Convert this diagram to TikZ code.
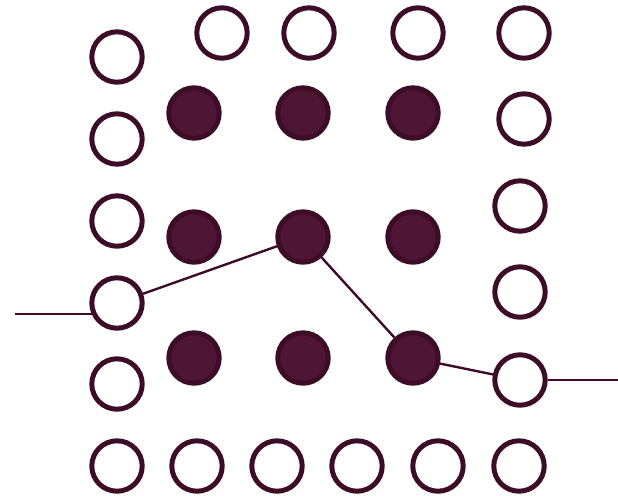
\documentclass[tikz,border=0pt]{standalone}
\usepackage{tikz}
\definecolor{plumx}{HTML}{3D0D28}
\definecolor{plumfill}{HTML}{4F1535}
\tikzset{
  ring/.style={circle,draw=plumx,line width=0.125cm,minimum size=1.26cm,inner sep=0pt,fill=white},
  dot/.style={ring,fill=plumfill},
  ln/.style={line width=0.06cm,plumx}
}

\begin{document}
\begin{tikzpicture}[x=0.025cm,y=-0.025cm]
\useasboundingbox (0,0) rectangle (618,495);
% outer frame of open circles
\foreach \y [count=\i] in {57,139,221,303,384,466}
  \node[ring] (l\i) at (117,\y) {};
\foreach \x [count=\i] in {222,309,418}
  \node[ring] (t\i) at (\x,33) {};
\foreach \x/\y [count=\i] in {524/33,524/119,520/206,520/292,520/380,519/466}
  \node[ring] (r\i) at (\x,\y) {};
\foreach \x [count=\i] in {197,277,357,438}
  \node[ring] (b\i) at (\x,466) {};
% filled inner grid
\foreach \y [count=\j] in {113,237,358}
  \foreach \x [count=\i] in {194,303,413}
    \node[dot] (f\j\i) at (\x,\y) {};
% path
\coordinate (inL) at (15,314);
\coordinate (outR) at (618,380);
\draw[ln] (inL) -- (l4.205 |- inL);
\draw[ln] (l4) -- (f22) -- (f33) -- (r5);
\draw[ln] (r5.east) -- (outR);
\end{tikzpicture}
\end{document}
